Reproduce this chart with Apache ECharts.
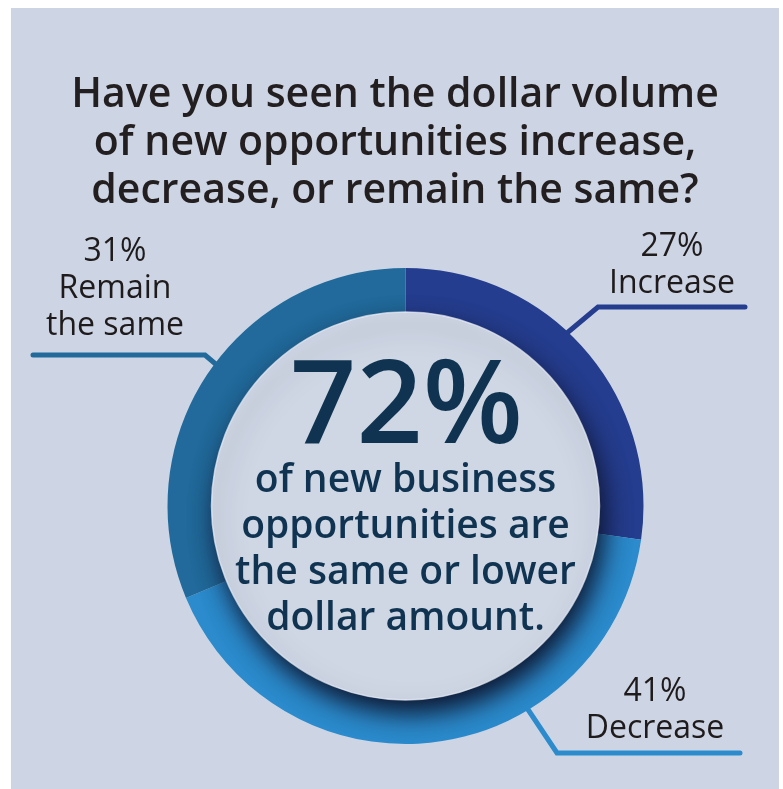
<!DOCTYPE html>
<html>
<head>
<meta charset="utf-8">
<script src="https://cdn.jsdelivr.net/npm/echarts@6/dist/echarts.min.js"></script>
<style>
  html, body { margin: 0; padding: 0; background: #ffffff; }
  #chart { width: 783px; height: 789px; }
</style>
</head>
<body>
<div id="chart"></div>
<script>
// Survey answers: share of respondents (percent)
const categories = ['Increase', 'Decrease', 'Remain\nthe same'];
const shares = [27, 41, 31];
const sliceColors = ['#253d8e', '#2b8bcc', '#216a9b'];

const question = 'Have you seen the dollar volume\nof new opportunities increase,\ndecrease, or remain the same?';
const centerNote = 'of new business\nopportunities are\nthe same or lower\ndollar amount.';

// Headline figure: "same" plus "lower" answers
const sameOrLower = shares[1] + shares[2];

const cx = 405.5, cy = 506;
const rOuter = 238, rDisc = 194;

// Label block centres and leader line routes for each slice
const labelSpots = [
  { x: 672, y: 265, line: [[567, 333], [598, 307], [745, 307]] },
  { x: 655, y: 710, line: [[527, 708], [557, 753], [740, 753]] },
  { x: 115, y: 289, line: [[218, 366], [205, 355], [33, 355]] }
];

const chart = echarts.init(document.getElementById('chart'), null, { renderer: 'canvas' });

const option = {
  animation: false,
  backgroundColor: '#ffffff',
  graphic: [
    {
      type: 'rect', z: -10, silent: true,
      shape: { x: 11, y: 8, width: 768, height: 781 },
      style: { fill: '#cdd5e4' }
    },
    {
      type: 'text', z: 100, silent: true,
      style: {
        x: cx + 1, y: 410, text: sameOrLower + '%',
        font: '600 116px "Open Sans"', fill: '#0f3350',
        align: 'center', verticalAlign: 'middle'
      }
    },
    {
      type: 'text', z: 100, silent: true,
      style: {
        x: cx, y: 550, text: centerNote,
        font: '600 39px "Open Sans"', lineHeight: 46, fill: '#0f3350',
        align: 'center', verticalAlign: 'middle'
      }
    }
  ],
  title: {
    text: question,
    left: 390, top: 66, textAlign: 'center',
    textStyle: {
      fontFamily: 'Open Sans', fontSize: 41, fontWeight: 600,
      color: '#231f20', lineHeight: 48
    }
  },
  series: [
    {
      type: 'pie',
      center: [cx, cy],
      radius: [160, rOuter],
      startAngle: 90,
      clockwise: true,
      silent: true,
      z: 2,
      data: categories.map((name, i) => ({
        name: name,
        value: shares[i],
        itemStyle: { color: sliceColors[i] },
        labelLine: { lineStyle: { color: sliceColors[i] } }
      })),
      label: {
        show: true,
        position: 'outside',
        formatter: p => p.value + '%\n' + p.name,
        fontFamily: 'Open Sans', fontSize: 32, fontWeight: 500,
        lineHeight: 37, color: '#1f1b1c', align: 'center'
      },
      labelLine: {
        show: true, smooth: false,
        lineStyle: { width: 5, cap: 'round', join: 'miter' }
      },
      labelLayout: function (params) {
        const s = labelSpots[params.dataIndex];
        return {
          x: s.x, y: s.y, align: 'center', verticalAlign: 'middle',
          labelLinePoints: s.line
        };
      }
    },
    {
      // centre disc casting a soft shadow onto the ring
      type: 'pie',
      center: [cx, cy],
      radius: [0, rDisc],
      silent: true,
      z: 3,
      label: { show: false },
      labelLine: { show: false },
      data: [{
        value: 1,
        itemStyle: {
          color: '#cfd7e5',
          borderColor: 'rgba(235,240,248,0.7)', borderWidth: 1.5,
          shadowBlur: 26, shadowOffsetX: 5, shadowOffsetY: 13,
          shadowColor: 'rgba(14,22,46,1)'
        }
      }]
    }
  ]
};

chart.setOption(option);
</script>
</body>
</html>
